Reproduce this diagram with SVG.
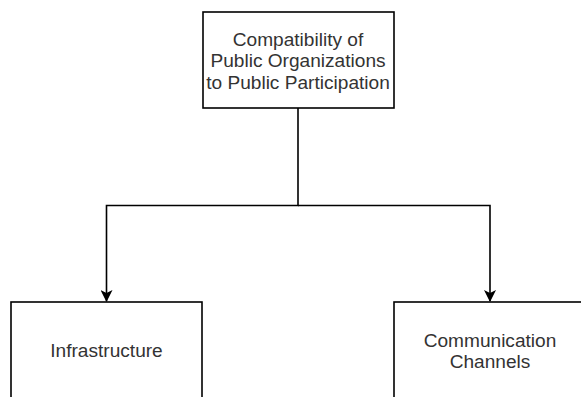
<svg xmlns="http://www.w3.org/2000/svg" width="581" height="397" viewBox="0 0 581 397">
  <defs>
    <style>
      .box { fill: #ffffff; stroke: #000000; stroke-width: 1.6; }
      .edge { fill: none; stroke: #000000; stroke-width: 1.6; }
      .label { font-family: "Liberation Sans", Arial, sans-serif; font-size: 19.1px; fill: #333333; text-anchor: middle; }
    </style>
    <marker id="arrow" viewBox="0 0 12 12" refX="11" refY="6" markerWidth="12" markerHeight="12" markerUnits="userSpaceOnUse" orient="auto">
      <path d="M0,0 L12,6 L0,12 L3,6 Z" fill="#000000"/>
    </marker>
  </defs>
  <rect width="581" height="397" fill="#ffffff"/>

  <!-- connectors -->
  <g id="connectors">
    <path class="edge" d="M298,108 V205.5 H106.5 V301" marker-end="url(#arrow)"/>
    <path class="edge" d="M298,205.5 H490 V301" marker-end="url(#arrow)"/>
  </g>

  <!-- root node -->
  <g id="node-compatibility">
    <rect class="box" x="203" y="12" width="191" height="96"/>
    <text class="label" x="298" y="45.5">Compatibility of</text>
    <text class="label" x="298" y="67">Public Organizations</text>
    <text class="label" x="298" y="88.5">to Public Participation</text>
  </g>

  <!-- child nodes -->
  <g id="node-infrastructure">
    <rect class="box" x="11" y="302" width="191" height="110"/>
    <text class="label" x="106.5" y="357">Infrastructure</text>
  </g>

  <g id="node-communication">
    <rect class="box" x="394" y="302" width="192" height="110"/>
    <text class="label" x="490" y="346.5">Communication</text>
    <text class="label" x="490" y="368">Channels</text>
  </g>
</svg>
